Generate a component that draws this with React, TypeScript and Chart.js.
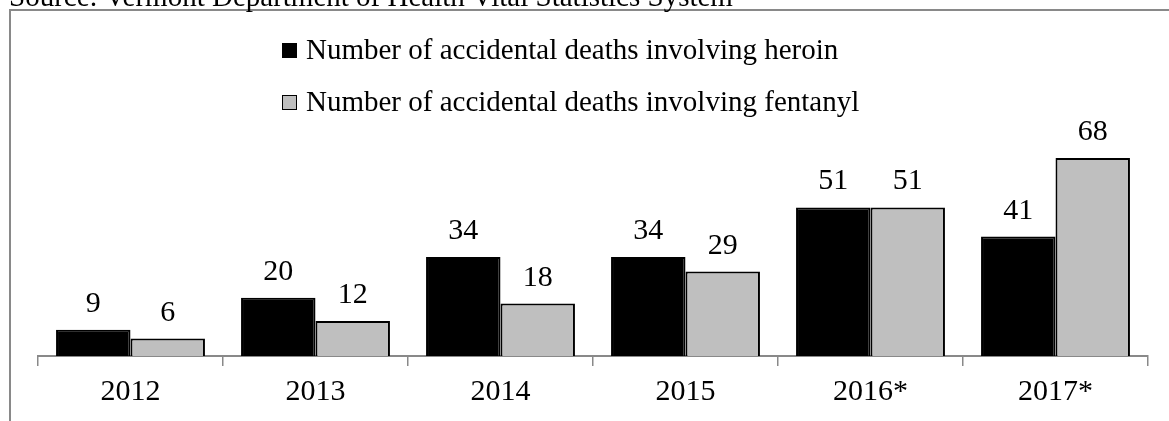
import React, { useEffect, useRef } from "react";
import { Chart, registerables } from "chart.js";

Chart.register(...registerables);

const categories = ["2012", "2013", "2014", "2015", "2016*", "2017*"];
const heroinDeaths = [9, 20, 34, 34, 51, 41];
const fentanylDeaths = [6, 12, 18, 29, 51, 68];
const seriesNames = [
  "Number of accidental deaths involving heroin",
  "Number of accidental deaths involving fentanyl",
];
const sourceText = "Source: Vermont Department of Health Vital Statistics System";

const FONT = "'Liberation Serif', 'Times New Roman', serif";

const decorPlugin = {
  id: "decor",
  beforeDraw(chart: any) {
    const ctx = chart.ctx;
    ctx.save();
    ctx.fillStyle = "#ffffff";
    ctx.fillRect(0, 0, chart.width, chart.height);
    // outer frame
    ctx.strokeStyle = "#898989";
    ctx.lineWidth = 2;
    ctx.strokeRect(10, 10, chart.width + 50, chart.height + 50);
    // source text (cut at top)
    ctx.fillStyle = "#000000";
    ctx.font = `29px ${FONT}`;
    ctx.textAlign = "left";
    ctx.textBaseline = "alphabetic";
    ctx.fillText(sourceText, 9, 6);
    // legend
    const ds = chart.data.datasets;
    ds.forEach((d: any, i: number) => {
      const base = 59 + i * 52;
      ctx.fillStyle = d.backgroundColor;
      ctx.fillRect(282, base - 16, 15, 15);
      ctx.strokeStyle = "#000000";
      ctx.lineWidth = 1;
      ctx.strokeRect(282.5, base - 15.5, 14, 14);
      ctx.fillStyle = "#000000";
      ctx.font = `29px ${FONT}`;
      ctx.fillText(d.label, 306, base);
    });
    ctx.restore();
  },
  afterDatasetsDraw(chart: any) {
    const ctx = chart.ctx;
    ctx.save();
    ctx.fillStyle = "#000000";
    ctx.font = `30px ${FONT}`;
    ctx.textAlign = "center";
    ctx.textBaseline = "alphabetic";
    chart.data.datasets.forEach((d: any, i: number) => {
      const meta = chart.getDatasetMeta(i);
      meta.data.forEach((el: any, j: number) => {
        ctx.fillText(String(d.data[j]), el.x, el.y - 18);
      });
    });
    ctx.restore();
  },
};

export default function App() {
  const ref = useRef<HTMLCanvasElement | null>(null);
  useEffect(() => {
    if (!ref.current) return;
    const chart = new Chart(ref.current, {
      type: "bar",
      data: {
        labels: categories,
        datasets: [
          {
            label: seriesNames[0],
            data: heroinDeaths,
            backgroundColor: "#000000",
            borderColor: "#000000",
            borderWidth: 2,
            categoryPercentage: 0.805,
            barPercentage: 1.0,
          },
          {
            label: seriesNames[1],
            data: fentanylDeaths,
            backgroundColor: "#bfbfbf",
            borderColor: "#000000",
            borderWidth: 2,
            categoryPercentage: 0.805,
            barPercentage: 1.0,
          },
        ],
      },
      options: {
        animation: false,
        responsive: false,
        devicePixelRatio: 1,
        layout: { padding: { top: 123, left: 38, right: 21, bottom: 3 } },
        plugins: {
          legend: { display: false },
          title: { display: false },
          tooltip: { enabled: false },
        },
        scales: {
          x: {
            grid: {
              offset: true,
              drawOnChartArea: false,
              drawTicks: true,
              tickLength: 10,
              color: "#898989",
              lineWidth: 1.5,
            },
            border: { display: true, color: "#898989", width: 2 },
            ticks: {
              color: "#000000",
              padding: 8,
              font: { family: FONT, size: 30 },
            },
          },
          y: {
            display: false,
            min: 0,
            max: 80,
          },
        },
      },
      plugins: [decorPlugin],
    });
    return () => chart.destroy();
  }, []);
  return (
    <div style={{ position: "absolute", left: 0, top: 0, width: 1169, height: 421 }}>
      <canvas ref={ref} width={1169} height={421} />
    </div>
  );
}
